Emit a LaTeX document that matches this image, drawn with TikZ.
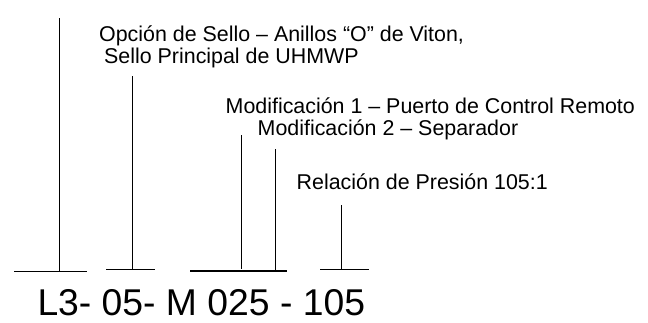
\documentclass[tikz,border=0pt]{standalone}
\usepackage{fontspec}
\setmainfont{Liberation Sans}
\begin{document}
\begin{tikzpicture}[x=1pt,y=-1pt,
  lbl/.style={anchor=base west,inner sep=0pt,font=\fontsize{21.4}{23}\selectfont},
  code/.style={anchor=base west,inner sep=0pt,font=\fontsize{37.3}{40}\selectfont},
  ln/.style={line width=1.4pt,black}]
\useasboundingbox[fill=white] (0,0) rectangle (648,322);
% labels
\node[lbl] (t1) at (99,41) {Opción de Sello – Anillos “O” de Viton,};
\node[lbl] (t2) at (104,63) {Sello Principal de UHMWP};
\node[lbl] (t3) at (225.5,113) {Modificación 1 – Puerto de Control Remoto};
\node[lbl] (t4) at (257.5,135.5) {Modificación 2 – Separador};
\node[lbl] (t5) at (296.5,189) {Relación de Presión 105:1};
\node[code] (c) at (37.3,315) {L3- 05- M 025 - 105};
% bars
\coordinate (b1l) at (14,271.7); \coordinate (b1r) at (87,271.7);
\coordinate (b2l) at (106,269.7); \coordinate (b2r) at (155,269.7);
\coordinate (b3l) at (190,271); \coordinate (b3r) at (287,271);
\coordinate (b4l) at (320,269.7); \coordinate (b4r) at (369,269.7);
\draw[ln] (b1l) -- (b1r);
\draw[ln] (b2l) -- (b2r);
\draw[ln] (b3l) -- (b3r);
\draw[ln] (b4l) -- (b4r);
% verticals
\coordinate (v1t) at (59.3,18.3); \coordinate (v1b) at (59.3,271.7);
\coordinate (v2t) at (132.7,76); \coordinate (v2b) at (132.7,269.7);
\coordinate (v3t) at (241.6,135); \coordinate (v3b) at (241.6,268.5);
\coordinate (v4t) at (275.7,149); \coordinate (v4b) at (275.7,271);
\coordinate (v5t) at (341.7,205); \coordinate (v5b) at (341.7,269.7);
\draw[ln] (v1t) -- (v1b);
\draw[ln] (v2t) -- (v2b);
\draw[ln] (v3t) -- (v3b);
\draw[ln] (v4t) -- (v4b);
\draw[ln] (v5t) -- (v5b);
\end{tikzpicture}
\end{document}
